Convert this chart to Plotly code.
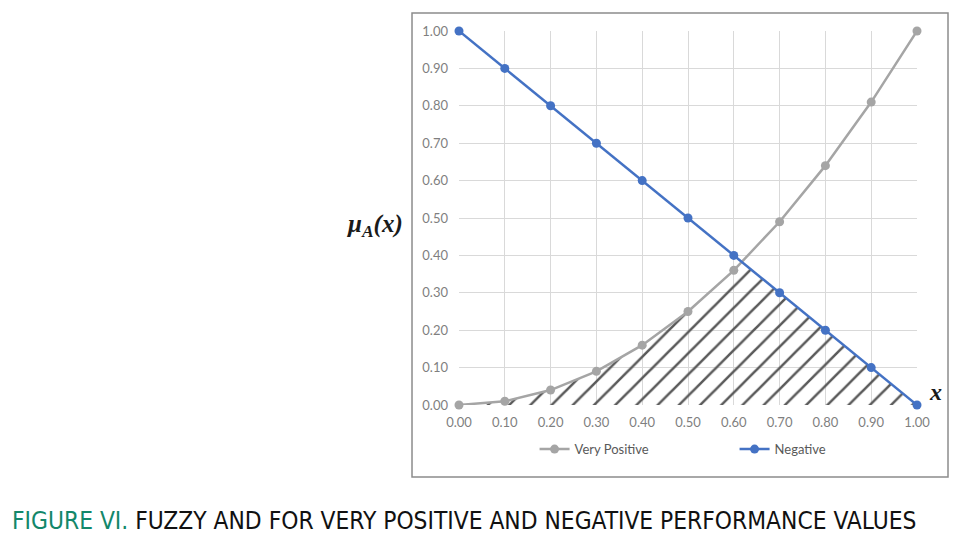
import plotly.graph_objects as go

x_vals = [0.0, 0.1, 0.2, 0.3, 0.4, 0.5, 0.6, 0.7, 0.8, 0.9, 1.0]
very_positive = [0.00, 0.01, 0.04, 0.09, 0.16, 0.25, 0.36, 0.49, 0.64, 0.81, 1.00]
negative = [1.00, 0.90, 0.80, 0.70, 0.60, 0.50, 0.40, 0.30, 0.20, 0.10, 0.00]
tick_vals = [0.0, 0.1, 0.2, 0.3, 0.4, 0.5, 0.6, 0.7, 0.8, 0.9, 1.0]

# hatched region: area under min(very_positive, negative), with crossing point
hx, hy = [], []
for i in range(len(x_vals)):
    hx.append(x_vals[i]); hy.append(min(very_positive[i], negative[i]))
    if i + 1 < len(x_vals):
        d0 = very_positive[i] - negative[i]
        d1 = very_positive[i + 1] - negative[i + 1]
        if d0 * d1 < 0:
            t = d0 / (d0 - d1)
            hx.append(x_vals[i] + t * (x_vals[i + 1] - x_vals[i]))
            hy.append(very_positive[i] + t * (very_positive[i + 1] - very_positive[i]))

BLUE = "#4472C4"
GRAY = "#A5A5A5"

fig = go.Figure()
fig.add_trace(go.Scatter(
    x=hx, y=hy, mode="lines", line=dict(width=0), fill="tozeroy",
    fillcolor="rgba(0,0,0,0)",
    fillpattern=dict(shape="/", fgcolor="#5a5a5a", bgcolor="rgba(255,255,255,0)",
                     fgopacity=1, size=15, solidity=0.17),
    showlegend=False, hoverinfo="skip"))
fig.add_trace(go.Scatter(
    x=x_vals, y=very_positive, mode="lines+markers", name="Very Positive",
    line=dict(color=GRAY, width=2.5), marker=dict(color=GRAY, size=9),
    cliponaxis=False))
fig.add_trace(go.Scatter(
    x=x_vals, y=negative, mode="lines+markers", name="Negative",
    line=dict(color=BLUE, width=2.5), marker=dict(color=BLUE, size=9),
    cliponaxis=False))

axis_common = dict(
    tickvals=tick_vals, tickformat=".2f", showgrid=True, gridcolor="#D9D9D9",
    gridwidth=1, zeroline=False, showline=False, ticks="",
    tickfont=dict(family="Lato", size=13, color="#7f7f7f"))
fig.update_xaxes(range=[0, 1], ticklabelstandoff=8, **axis_common)
fig.update_yaxes(range=[0, 1], ticklabelstandoff=10, **axis_common)

# outer chart border
fig.add_shape(type="rect", xref="paper", yref="paper",
              x0=-0.1026, x1=1.0677, y0=-0.1925, y1=1.0481,
              line=dict(color="#8c8c8c", width=1.5), layer="below")

fig.add_annotation(text="<b><i>μ<sub>A</sub>(x)</i></b>", xref="paper", yref="y",
                   x=-0.118, y=0.48, xanchor="right", yanchor="middle", showarrow=False,
                   font=dict(family="Liberation Serif", size=25, color="#1a1a1a"))
fig.add_annotation(text="<b><i>x</i></b>", xref="paper", yref="y",
                   x=1.022, y=0.035, xanchor="left", yanchor="middle", showarrow=False,
                   font=dict(family="Liberation Serif", size=24, color="#1a1a1a"))
fig.add_annotation(
    text="<span style='color:#13876a'>FIGURE VI.</span> FUZZY AND FOR VERY POSITIVE AND NEGATIVE PERFORMANCE VALUES",
    xref="paper", yref="paper", x=(10 - 459) / 458, y=(405 - 520) / 374,
    xanchor="left", yanchor="middle", showarrow=False,
    font=dict(family="DejaVu Sans Condensed", size=24.3, color="#111111"))

fig.update_layout(
    width=967, height=538,
    margin=dict(l=451, r=58, t=23, b=141),
    paper_bgcolor="white", plot_bgcolor="white",
    showlegend=True,
    legend=dict(orientation="h", x=0.165, xanchor="left", y=-0.118, yanchor="middle",
                entrywidth=155, font=dict(family="Lato", size=13, color="#595959"),
                itemwidth=30),
)

fig.write_html("out.html")
